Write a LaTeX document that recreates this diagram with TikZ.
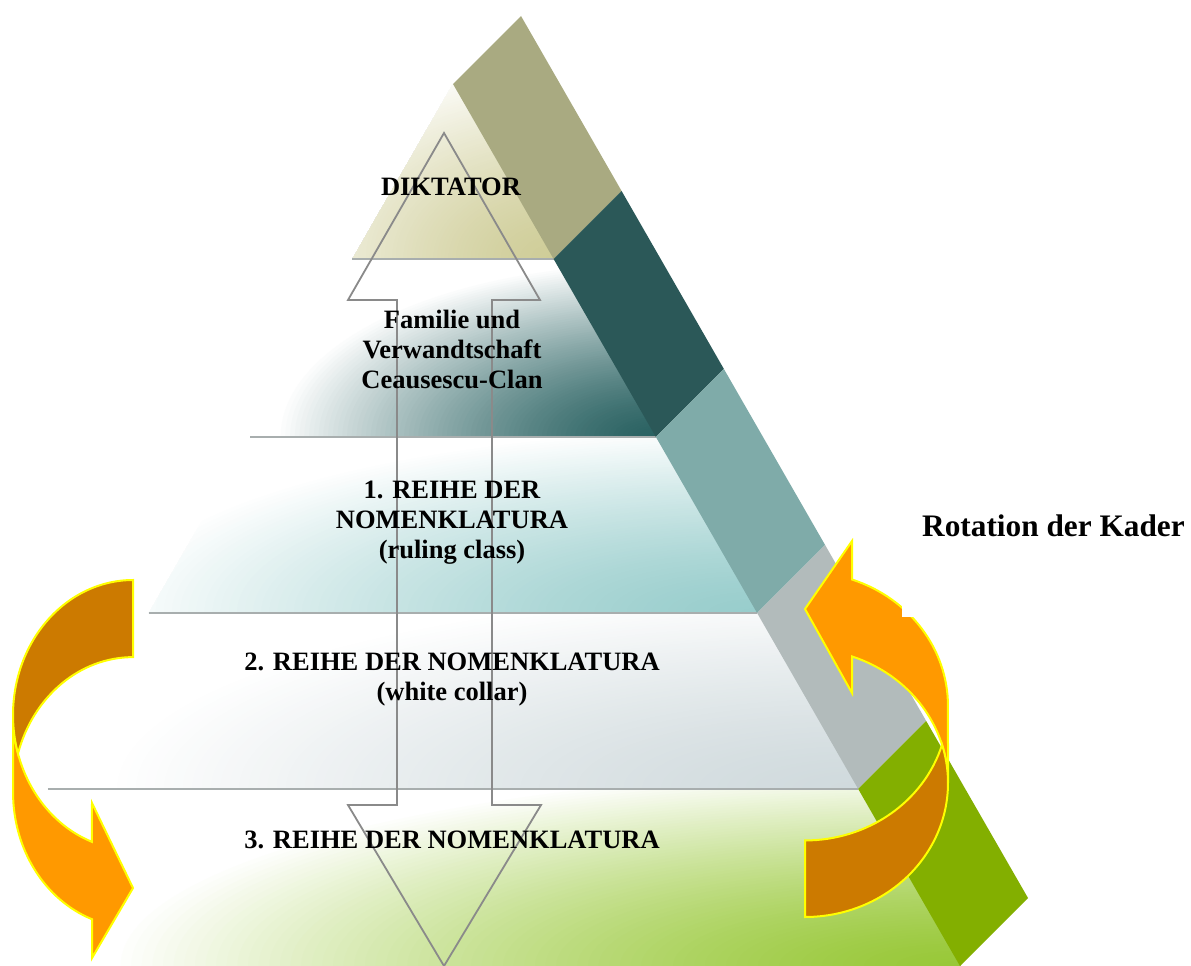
\documentclass[tikz,border=0pt]{standalone}
\usepackage{fontspec}
\setmainfont{Liberation Serif}

% side strip colours
\definecolor{stripkhaki}{HTML}{A9AA81}
\definecolor{stripdark}{HTML}{2B5858}
\definecolor{stripteal}{HTML}{7FABA9}
\definecolor{stripgray}{HTML}{B2BBBB}
\definecolor{stripgreen}{HTML}{83AF00}
% front face tones
\definecolor{tonekhaki}{HTML}{CFCD98}
\definecolor{tonedark}{HTML}{2A6262}
\definecolor{toneteal}{HTML}{98CDCC}
\definecolor{tonegray}{HTML}{D0DADD}
\definecolor{tonegreen}{HTML}{98C838}
% curved arrows
\definecolor{arrowfront}{HTML}{FF9900}
\definecolor{arrowback}{HTML}{CC7A00}
\definecolor{arrowrim}{HTML}{FFFF00}
\definecolor{outlinegray}{HTML}{8A8A8A}
\definecolor{tierline}{HTML}{A8AEAE}

% one tier of the pyramid: colour, glow centre, x radius, y radius, outline;
% the glow fades from the colour at the centre to white at the rim
\newcommand\tierband[5]{%
  \begin{scope}
    \clip #5;
    \foreach \k in {80,79,...,1}{%
      \pgfmathsetmacro\tierpct{100-100*(\k/80)^1.4}%
      \fill[#1!\tierpct!white] #2 ellipse[x radius={#3/80*\k}, y radius={#4/80*\k}];
    }
  \end{scope}}

\begin{document}
\begin{tikzpicture}[x=1pt,y=-1pt,
  bandtext/.style={font=\fontsize{26.5}{30}\selectfont\bfseries, align=center,
    inner sep=0pt, anchor=north, text=black},
  tierrule/.style={draw=tierline, line width=1.2pt},
  updown/.style={draw=outlinegray, line width=1.8pt, line join=miter},
  arrowfrontpart/.style={fill=arrowfront, draw=arrowrim, line width=2pt},
  arrowbackpart/.style={fill=arrowback, draw=arrowrim, line width=2pt}]

\useasboundingbox (0,0) rectangle (1191,966);
\fill[white] (0,0) rectangle (1191,966);

\begin{scope}
\clip (0,0) rectangle (1191,966);

% front face of the pyramid, five tiers
\tierband{tonekhaki}{(553.6,259)}{300}{200}{(453,84) -- (553.6,259) -- (352.4,259) -- cycle}
\tierband{tonedark}{(655.9,437)}{380}{175}{(352.4,259) -- (553.6,259) -- (655.9,437) -- (250.1,437) -- cycle}
\tierband{toneteal}{(757.1,613)}{650}{185}{(250.1,437) -- (655.9,437) -- (757.1,613) -- (148.9,613) -- cycle}
\tierband{tonegray}{(858.2,789)}{750}{200}{(148.9,613) -- (757.1,613) -- (858.2,789) -- (47.8,789) -- cycle}
\tierband{tonegreen}{(960,966)}{850}{200}{(47.8,789) -- (858.2,789) -- (960,966) -- (-54,966) -- cycle}

% dividing lines between the tiers
\draw[tierrule] (352.4,259) -- (553.6,259);
\draw[tierrule] (250.1,437) -- (655.9,437);
\draw[tierrule] (148.9,613) -- (757.1,613);
\draw[tierrule] (47.8,789) -- (858.2,789);

% side strip of the pyramid
\fill[stripkhaki] (453,84) -- (521,16) -- (621.6,191) -- (553.6,259) -- cycle;
\fill[stripdark] (553.6,259) -- (621.6,191) -- (723.9,369) -- (655.9,437) -- cycle;
\fill[stripteal] (655.9,437) -- (723.9,369) -- (825.1,545) -- (757.1,613) -- cycle;
\fill[stripgray] (757.1,613) -- (825.1,545) -- (926.2,721) -- (858.2,789) -- cycle;
\fill[stripgreen] (858.2,789) -- (926.2,721) -- (1028,898) -- (960,966) -- cycle;

% vertical up-down arrow through all tiers
\draw[updown] (444,133) -- (540,300) -- (492,300) -- (492,805) -- (541,805)
  -- (444,966) -- (348,805) -- (397,805) -- (397,300) -- (348,300) -- cycle;

% tier labels
\node[bandtext] (diktator) at (451,174) {\strut DIKTATOR};
\node[bandtext] (familie) at (452,307) {\strut Familie und\\Verwandtschaft\\Ceausescu-Clan};
\node[bandtext] (reihe1) at (452,477) {\strut 1. REIHE DER\\NOMENKLATURA\\(ruling class)};
\node[bandtext] (reihe2) at (452,649.5) {\strut 2. REIHE DER NOMENKLATURA\\(white collar)};
\node[bandtext] (reihe3) at (452,827) {\strut 3. REIHE DER NOMENKLATURA};

% left curved arrow (head pointing right)
\filldraw[arrowfrontpart] (13,715)
  arc[start angle=180, end angle=110, x radius=120, y radius=135]
  -- (92,803) -- (133,888) -- (92,958) -- (92,919.2)
  arc[start angle=110, end angle=180, x radius=120, y radius=135] -- cycle;
\filldraw[arrowbackpart] (133,580)
  arc[start angle=270, end angle=163.4, x radius=120, y radius=135]
  arc[start angle=196.6, end angle=270, x radius=120, y radius=135] -- cycle;

% right curved arrow (head pointing left)
\filldraw[arrowfrontpart] (948,783)
  arc[start angle=360, end angle=289.2, x radius=143, y radius=134]
  -- (852,693) -- (805,609) -- (852,541) -- (852,579.5)
  arc[start angle=289.2, end angle=360, x radius=143, y radius=134] -- cycle;
\filldraw[arrowbackpart] (805,917)
  arc[start angle=90, end angle=-16.6, x radius=143, y radius=134]
  arc[start angle=16.6, end angle=90, x radius=143, y radius=134] -- cycle;

% caption box
\node[fill=white, inner sep=0pt, minimum width=303pt, minimum height=176pt,
  font=\fontsize{31.3}{36}\selectfont\bfseries] (kader) at (1053.5,528.8)
  {\strut Rotation der Kader};
\end{scope}
\end{tikzpicture}
\end{document}
